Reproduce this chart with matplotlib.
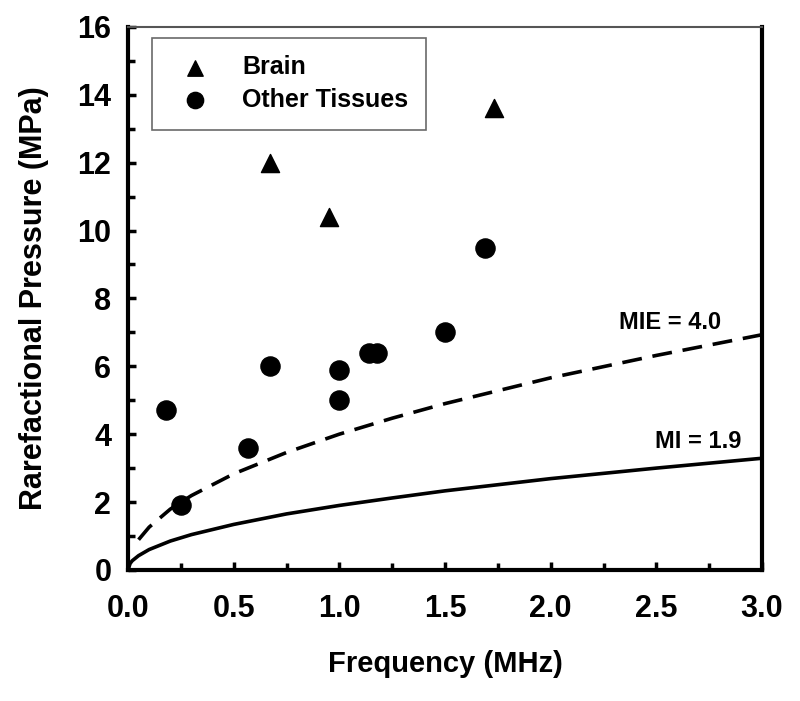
import matplotlib
matplotlib.use("Agg")
import matplotlib.pyplot as plt
from matplotlib.ticker import MultipleLocator

plt.rcParams["font.family"] = ["Liberation Sans", "DejaVu Sans"]
plt.rcParams["font.weight"] = "bold"

# --- data ---------------------------------------------------------------
brain_f = [0.67, 0.95, 1.73]
brain_p = [12.0, 10.4, 13.6]

tissue_f = [0.18, 0.25, 0.57, 0.67, 1.00, 1.00, 1.14, 1.18, 1.50, 1.69]
tissue_p = [4.7, 1.9, 3.6, 6.0, 5.9, 5.0, 6.4, 6.4, 7.0, 9.5]

# MI = 1.9 line (solid)
mi_f = [0.0, 0.01, 0.02, 0.05, 0.1, 0.2, 0.3, 0.5, 0.75, 1.0, 1.25, 1.5, 2.0, 2.5, 3.0]
mi_p = [0.0, 0.19, 0.27, 0.42, 0.60, 0.85, 1.04, 1.34, 1.65, 1.90, 2.12, 2.33, 2.69, 3.00, 3.29]

# MIE = 4.0 line (dashed)
mie_f = [0.05, 0.1, 0.2, 0.3, 0.5, 0.75, 1.0, 1.25, 1.5, 2.0, 2.5, 3.0]
mie_p = [0.89, 1.26, 1.79, 2.19, 2.83, 3.46, 4.00, 4.47, 4.90, 5.66, 6.32, 6.93]

# --- plot ----------------------------------------------------------------
fig = plt.figure(figsize=(8, 7.01), dpi=100)
ax = fig.add_axes([0.16, 0.187, 0.7925, 0.7746])

ax.plot(mi_f, mi_p, color="black", lw=2.6)
ax.plot(mie_f, mie_p, color="black", lw=2.6, dashes=(5.5, 3))

ax.scatter(brain_f, brain_p, marker="^", s=170, color="black",
           label="Brain", zorder=5)
ax.scatter(tissue_f, tissue_p, marker="o", s=190, color="black",
           label="Other Tissues", zorder=5)

ax.text(2.565, 7.28, "MIE = 4.0", fontsize=17, fontweight="bold",
        ha="center", va="center")
ax.text(2.70, 3.77, "MI = 1.9", fontsize=17, fontweight="bold",
        ha="center", va="center")

ax.set_xlim(0, 3.0)
ax.set_ylim(0, 16)
ax.xaxis.set_major_locator(MultipleLocator(0.5))
ax.xaxis.set_minor_locator(MultipleLocator(0.25))
ax.yaxis.set_major_locator(MultipleLocator(2))
ax.yaxis.set_minor_locator(MultipleLocator(1))
ax.set_xticklabels([f"{v:.1f}" for v in ax.get_xticks()])

ax.set_xlabel("Frequency (MHz)", fontsize=21, fontweight="bold")
ax.set_ylabel("Rarefactional Pressure (MPa)", fontsize=22, fontweight="bold")
ax.xaxis.set_label_coords(0.5, -0.148)
ax.yaxis.set_label_coords(-0.125, 0.5)

for axis in ["bottom", "left", "right"]:
    ax.spines[axis].set_linewidth(3)
ax.spines["top"].set_linewidth(1.5)
ax.spines["top"].set_color("#555555")
ax.tick_params(axis="both", which="major", direction="in", labelsize=22,
               width=2.5, length=6)
ax.tick_params(axis="both", which="minor", direction="in", width=2.5, length=5)
ax.tick_params(axis="x", pad=17)
ax.tick_params(axis="y", pad=12)

leg = ax.legend(loc="upper left", fontsize=18, frameon=True, fancybox=False,
                borderpad=0.7, handletextpad=0.9, labelspacing=0.35,
                borderaxespad=0, bbox_to_anchor=(0.038, 0.98), markerscale=0.85)
leg.get_frame().set_edgecolor("#444444")
leg.get_frame().set_linewidth(1.2)

fig.savefig("out.png", dpi=100)
